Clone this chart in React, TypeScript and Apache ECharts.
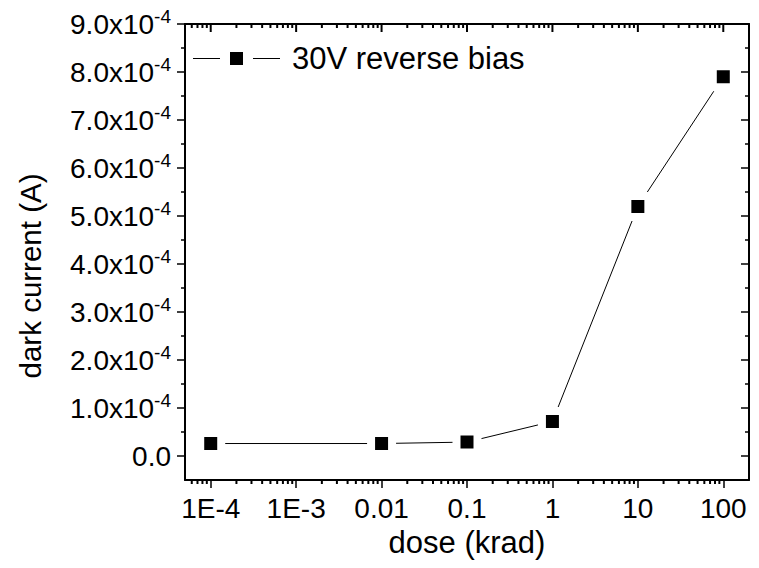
import React, { useEffect, useRef } from "react";
import * as echarts from "echarts";

const DOSE = [1e-4, 0.01, 0.1, 1, 10, 100];
const CURRENT = [2.6e-5, 2.6e-5, 2.9e-5, 7.2e-5, 5.2e-4, 7.9e-4];
const SERIES_NAME = "30V reverse bias";
const X_TICKS = [1e-4, 1e-3, 0.01, 0.1, 1, 10, 100];
const X_TICK_LABELS = ["1E-4", "1E-3", "0.01", "0.1", "1", "10", "100"];
const X_MINOR = [
  6e-5, 7e-5, 8e-5, 9e-5,
  2e-4, 3e-4, 4e-4, 5e-4, 6e-4, 7e-4, 8e-4, 9e-4,
  2e-3, 3e-3, 4e-3, 5e-3, 6e-3, 7e-3, 8e-3, 9e-3,
  0.02, 0.03, 0.04, 0.05, 0.06, 0.07, 0.08, 0.09,
  0.2, 0.3, 0.4, 0.5, 0.6, 0.7, 0.8, 0.9,
  2, 3, 4, 5, 6, 7, 8, 9,
  20, 30, 40, 50, 60, 70, 80, 90,
];
const Y_TICKS = [0, 1e-4, 2e-4, 3e-4, 4e-4, 5e-4, 6e-4, 7e-4, 8e-4, 9e-4];
const Y_TICK_MANTISSA = ["0.0", "1.0", "2.0", "3.0", "4.0", "5.0", "6.0", "7.0", "8.0", "9.0"];
const Y_MINOR = [0.5e-4, 1.5e-4, 2.5e-4, 3.5e-4, 4.5e-4, 5.5e-4, 6.5e-4, 7.5e-4, 8.5e-4];

const FONT = "'Liberation Sans', Arial, sans-serif";
const X_MIN = 5e-5;
const X_MAX = 200;
const Y_MIN = -0.5e-4;
const Y_MAX = 9e-4;
const GRID = { left: 185, top: 24, right: 10, bottom: 88 };
const TICK_COLOR = "#000";

export default function App() {
  const ref = useRef<HTMLDivElement>(null);
  useEffect(() => {
    if (!ref.current) return;
    const chart = echarts.init(ref.current, undefined, { renderer: "svg" });
    const lineOn = { show: true, onZero: false, lineStyle: { color: "#000", width: 2 } };
    const lineOff = { show: false, onZero: false };
    const xBase = (grid: number, pos: string, line: boolean): any => ({
      type: "log",
      logBase: 10,
      min: X_MIN,
      max: X_MAX,
      position: pos,
      gridIndex: grid,
      axisLine: line ? lineOn : lineOff,
      axisTick: { show: false },
      axisLabel: { show: false },
      splitLine: { show: false },
      minorTick: { show: false },
    });
    const yBase = (grid: number, pos: string, inside: boolean, values: number[], len: number, line: boolean): any => ({
      type: "value",
      min: Y_MIN,
      max: Y_MAX,
      position: pos,
      gridIndex: grid,
      axisLine: line ? lineOn : lineOff,
      axisTick: { show: true, inside, length: len, customValues: values, lineStyle: { color: TICK_COLOR, width: 1.5 } },
      axisLabel: { show: false },
      splitLine: { show: false },
    });
    const mainX = xBase(0, "bottom", true);
    mainX.axisTick = { show: true, inside: false, length: 8, customValues: X_TICKS, lineStyle: { color: TICK_COLOR, width: 1.5 } };
    mainX.axisLabel = {
      show: true,
      customValues: X_TICKS,
      margin: 14,
      fontSize: 28,
      fontFamily: FONT,
      color: "#000",
      formatter: (v: number) => {
        const i = X_TICKS.findIndex((t) => Math.abs(Math.log10(t) - Math.log10(v)) < 1e-6);
        return i >= 0 ? X_TICK_LABELS[i] : "";
      },
    };
    mainX.name = "dose (krad)";
    mainX.nameLocation = "middle";
    mainX.nameGap = 47;
    mainX.nameTextStyle = { fontSize: 31, fontFamily: FONT, color: "#000" };

    const mainY = yBase(0, "left", false, Y_TICKS, 8, true);
    mainY.axisLabel = {
      show: true,
      customValues: Y_TICKS,
      margin: 14,
      fontFamily: FONT,
      color: "#000",
      formatter: (v: number) => {
        const i = Y_TICKS.findIndex((t) => Math.abs(t - v) < 1e-9);
        if (i < 0) return "";
        if (i === 0) return "{m|" + Y_TICK_MANTISSA[i] + "}";
        return "{m|" + Y_TICK_MANTISSA[i] + "x10}{e|-4}";
      },
      rich: {
        m: { fontSize: 28, fontFamily: FONT, color: "#000" },
        e: { fontSize: 19, fontFamily: FONT, color: "#000", padding: [0, 0, 16, 0] },
      },
    };
    mainY.name = "dark current (A)";
    mainY.nameLocation = "middle";
    mainY.nameGap = 140;
    mainY.nameTextStyle = { fontSize: 29.5, fontFamily: FONT, color: "#000", padding: [0, 48, 0, 0] };

    // extra x ticks (bottom minor, top major, top minor) drawn through the x scale
    const xTickMarks = [
      ...X_MINOR.map((v) => [v, Y_MIN, 4]),
      ...X_TICKS.map((v) => [v, Y_MAX, 8]),
      ...X_MINOR.map((v) => [v, Y_MAX, 4]),
    ];

    chart.setOption({
      animation: false,
      backgroundColor: "#fff",
      grid: [0, 1, 2, 3].map(() => ({ ...GRID, containLabel: false })),
      legend: {
        show: true,
        left: 193,
        top: 43,
        padding: 0,
        itemWidth: 87,
        itemHeight: 13,
        itemGap: 4,
        icon: "path://M0,6h27v1h-27z M37,0h13v13h-13z M60,6h27v1h-27z",
        itemStyle: { color: "#000", borderWidth: 0, borderColor: "#000" },
        textStyle: { fontSize: 31, fontFamily: FONT, color: "#000", padding: [0, 0, 0, 7] },
        data: [SERIES_NAME],
      },
      xAxis: [mainX, xBase(1, "bottom", false), xBase(2, "top", true), xBase(3, "top", false)],
      yAxis: [
        mainY,
        yBase(1, "left", false, Y_MINOR, 4, false),
        yBase(2, "right", true, Y_TICKS, 8, true),
        yBase(3, "right", true, Y_MINOR, 4, false),
      ],
      series: [
        {
          name: SERIES_NAME,
          type: "line",
          xAxisIndex: 0,
          yAxisIndex: 0,
          data: DOSE.map((d, i) => [d, CURRENT[i]]),
          symbol: "rect",
          symbolSize: 21,
          itemStyle: { color: "#000", borderColor: "#fff", borderWidth: 8 },
          lineStyle: { color: "#000", width: 1 },
          z: 3,
        },
        {
          name: "ticks",
          type: "custom",
          coordinateSystem: "cartesian2d",
          xAxisIndex: 0,
          yAxisIndex: 0,
          clip: false,
          silent: true,
          z: 4,
          data: xTickMarks,
          renderItem: (params: any, api: any) => {
            const p = api.coord([api.value(0), api.value(1)]);
            const len = api.value(2);
            return {
              type: "line",
              shape: { x1: p[0], y1: p[1], x2: p[0], y2: p[1] + len },
              style: { stroke: TICK_COLOR, lineWidth: 2 },
            };
          },
        },
      ],
    });
    return () => chart.dispose();
  }, []);
  return <div ref={ref} style={{ width: 759, height: 568, position: "absolute", left: 0, top: 0 }} />;
}
